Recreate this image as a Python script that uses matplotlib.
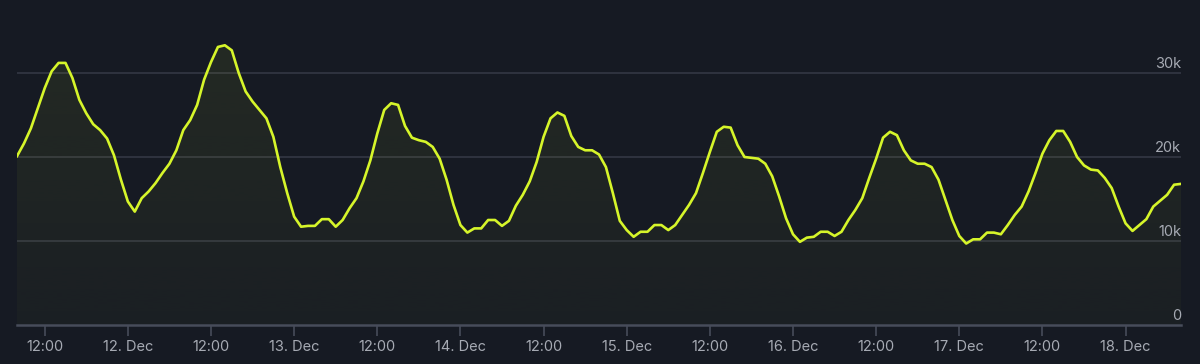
import numpy as np
import matplotlib
matplotlib.use("Agg")
import matplotlib.pyplot as plt
import matplotlib.dates as mdates
import pandas as pd
from matplotlib.patches import Polygon

# ---- data (hourly values, 11 Dec 08:00 -> 18 Dec 08:00) ----
start_time = "2023-12-11 08:00"
values_k = [
    20.1, 21.6, 23.4, 25.8, 28.2, 30.2, 31.2, 31.2, 29.4, 26.8,
    25.2, 23.9, 23.2, 22.2, 20.2, 17.3, 14.7, 13.5, 15.1, 15.9,
    16.9, 18.1, 19.2, 20.8, 23.2, 24.4, 26.2, 29.2, 31.3, 33.1,
    33.3, 32.7, 30.0, 27.8, 26.6, 25.6, 24.6, 22.4, 18.8, 15.7,
    12.9, 11.7, 11.8, 11.8, 12.6, 12.6, 11.7, 12.5, 13.9, 15.1,
    17.1, 19.6, 22.8, 25.6, 26.4, 26.2, 23.7, 22.3, 22.0, 21.8,
    21.2, 19.8, 17.3, 14.3, 11.9, 11.0, 11.5, 11.5, 12.5, 12.5,
    11.8, 12.4, 14.2, 15.5, 17.1, 19.4, 22.4, 24.6, 25.3, 24.9,
    22.5, 21.2, 20.8, 20.8, 20.3, 18.8, 15.7, 12.4, 11.3, 10.5,
    11.1, 11.1, 11.9, 11.9, 11.3, 11.9, 13.1, 14.3, 15.7, 18.1,
    20.6, 23.0, 23.6, 23.5, 21.4, 20.0, 19.9, 19.8, 19.2, 17.7,
    15.3, 12.7, 10.8, 9.9, 10.4, 10.5, 11.1, 11.1, 10.6, 11.1,
    12.5, 13.7, 15.1, 17.5, 19.8, 22.3, 23.0, 22.6, 20.8, 19.6,
    19.2, 19.2, 18.8, 17.3, 14.9, 12.5, 10.6, 9.7, 10.2, 10.2,
    11.0, 11.0, 10.8, 11.9, 13.1, 14.1, 15.9, 18.1, 20.4, 22.0,
    23.1, 23.1, 21.8, 20.0, 19.0, 18.5, 18.4, 17.5, 16.3, 14.1,
    12.1, 11.2, 11.9, 12.6, 14.1, 14.8, 15.5, 16.7, 16.8,
]
values = [v * 1000 for v in values_k]

tick_times = [
    "2023-12-11 12:00", "2023-12-12 00:00", "2023-12-12 12:00", "2023-12-13 00:00",
    "2023-12-13 12:00", "2023-12-14 00:00", "2023-12-14 12:00", "2023-12-15 00:00",
    "2023-12-15 12:00", "2023-12-16 00:00", "2023-12-16 12:00", "2023-12-17 00:00",
    "2023-12-17 12:00", "2023-12-18 00:00",
]
tick_labels = ["12:00", "12. Dec", "12:00", "13. Dec", "12:00", "14. Dec", "12:00",
               "15. Dec", "12:00", "16. Dec", "12:00", "17. Dec", "12:00", "18. Dec"]
y_ticks = [0, 10000, 20000, 30000]
y_labels = ["0", "10k", "20k", "30k"]

# ---- style ----
BG = "#161a23"
LINE = "#d6f52a"
GRID = "#343844"
AXIS = "#474c5a"
TXT = "#a6aab3"
plt.rcParams["font.family"] = ["Inter", "DejaVu Sans"]

times = pd.date_range(start_time, periods=len(values), freq="h")
x = mdates.date2num(times.to_pydatetime())
y = np.array(values)

W, H = 1200, 364
fig = plt.figure(figsize=(W / 100, H / 100), dpi=100, facecolor=BG)
left, right, bottom_px, top_px = 17, 1181, 325, 5
ax = fig.add_axes([left / W, 1 - bottom_px / H, (right - left) / W, (bottom_px - top_px) / H])
ax.set_facecolor(BG)

ymax = (bottom_px - top_px) / 84 * 10000
ax.set_xlim(x[0], x[-1])
ax.set_ylim(0, ymax)

# gridlines
for t in y_ticks[1:]:
    ax.axhline(t, color=GRID, lw=1.2, zorder=1)
ax.axhline(0, color=AXIS, lw=1.8, zorder=3, clip_on=False)

# gradient fill under the line
grad = np.linspace(0.025, 0.075, 256).reshape(-1, 1)
rgba = np.zeros((256, 1, 4))
rgba[..., :3] = matplotlib.colors.to_rgb(LINE)
rgba[..., 3] = grad[:, :]
top_val = max(values)
im = ax.imshow(rgba, extent=[x[0], x[-1], 0, top_val], origin="lower",
               aspect="auto", zorder=2, interpolation="bilinear")
poly = Polygon(np.column_stack([np.r_[x[0], x, x[-1]], np.r_[0, y, 0]]),
               closed=True, facecolor="none", edgecolor="none")
ax.add_patch(poly)
im.set_clip_path(poly)

ax.plot(x, y, color=LINE, lw=1.9, zorder=4, solid_joinstyle="round")

# x ticks
tnum = mdates.date2num(pd.to_datetime(tick_times).to_pydatetime())
ax.set_xticks(tnum)
ax.set_xticklabels(tick_labels)
ax.tick_params(axis="x", colors=AXIS, length=8, width=1.2, pad=3, labelsize=10.5,
               labelcolor=TXT, direction="out")
ax.set_yticks([])

# y labels on right, above gridlines
for t, lab in zip(y_ticks, y_labels):
    ax.text(1.0, t + 250, lab, transform=ax.get_yaxis_transform(), ha="right", va="bottom",
            color=TXT, fontsize=10.5, zorder=5)

for s in ax.spines.values():
    s.set_visible(False)

fig.savefig("out.png", dpi=100, facecolor=BG)
